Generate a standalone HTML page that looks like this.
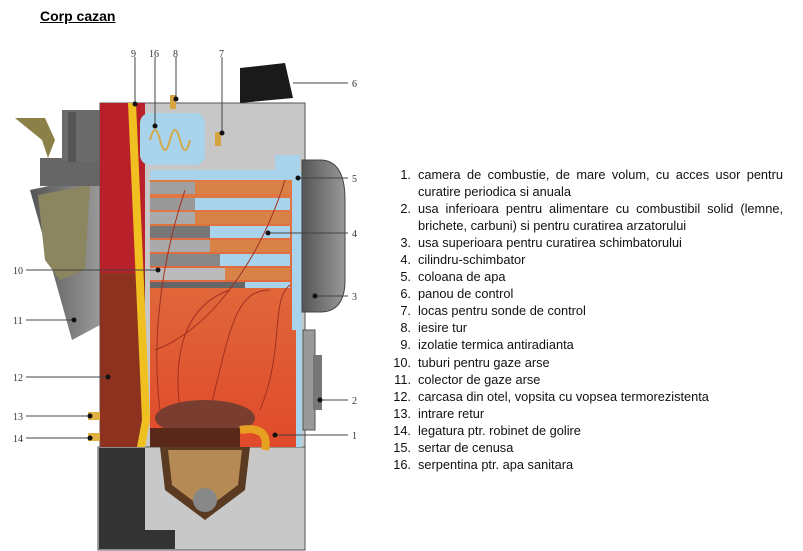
<!DOCTYPE html>
<html><head><meta charset="utf-8"><style>
body{margin:0;width:803px;height:551px;background:#fff;position:relative;overflow:hidden;font-family:"Liberation Sans",Arial,sans-serif}
.t{position:absolute;left:40px;top:8px;font-size:14px;font-weight:bold;text-decoration:underline}
.list{position:absolute;left:380px;top:166px;width:403px;font-size:12.8px;line-height:17.05px;color:#111}
.li{display:flex}
.n{width:31px;text-align:right;padding-right:7px;flex:none}
.x{flex:1;text-align:justify;text-align-last:left}
</style></head><body>
<div class="t">Corp cazan</div>
<svg width="380" height="551" style="position:absolute;left:0;top:0" font-family="Liberation Serif,serif" font-size="10" fill="#333">
<defs>
<linearGradient id="ch" x1="0" y1="0" x2="0" y2="1"><stop offset="0" stop-color="#e07a45"/><stop offset="1" stop-color="#e04a2a"/></linearGradient>
<linearGradient id="gr" x1="0" y1="0" x2="1" y2="0"><stop offset="0" stop-color="#555"/><stop offset="1" stop-color="#999"/></linearGradient>
</defs>
<polygon points="30,190 100,175 100,325 72,340" fill="url(#gr)"/>
<polygon points="38,195 90,185 85,270 60,280 45,260" fill="#8b8560"/>
<rect x="40" y="158" width="60" height="28" fill="#666"/>
<rect x="62" y="110" width="40" height="52" fill="#6a6a6a"/>
<rect x="68" y="112" width="8" height="50" fill="#555"/>
<polygon points="15,118 45,118 55,140 48,158 42,140" fill="#8a8048"/>
<rect x="98" y="447" width="207" height="103" fill="#c8c8c8" stroke="#555"/>
<polygon points="99,448 145,448 145,530 175,530 175,549 99,549" fill="#333"/>
<rect x="100" y="103" width="205" height="344" fill="#c7c7c7" stroke="#555"/>
<rect x="100" y="103" width="45" height="344" fill="#8e3220"/>
<rect x="100" y="103" width="45" height="170" fill="#b8202a"/>
<rect x="140" y="113" width="65" height="52" rx="10" fill="#a9d3ea"/>
<path d="M150,140 q5,-20 10,0 q5,20 10,0 q5,-20 10,0 q5,20 10,0" stroke="#d4a94a" fill="none" stroke-width="2"/>
<rect x="170" y="95" width="6" height="14" fill="#d4a440"/>
<rect x="215" y="132" width="6" height="14" fill="#d4a440"/>
<polygon points="150,170 300,170 300,155 275,155 275,170 300,170 300,447 288,447 288,320 300,320" fill="#a9d3ea"/>
<rect x="150" y="172" width="150" height="8" fill="#a9d3ea"/>
<rect x="288" y="172" width="14" height="275" fill="#a9d3ea"/>
<polygon points="150,180 292,180 292,330 296,330 296,447 150,447" fill="url(#ch)"/>
<g>
<rect x="150" y="182" width="140" height="12" fill="#d88248"/><rect x="150" y="182" width="45" height="12" fill="#a0a0a0"/>
<rect x="150" y="198" width="140" height="12" fill="#a9d3ea"/><rect x="150" y="198" width="45" height="12" fill="#999"/>
<rect x="195" y="212" width="95" height="12" fill="#d88248"/><rect x="150" y="212" width="45" height="12" fill="#aaa"/>
<rect x="150" y="226" width="140" height="12" fill="#a9d3ea"/><rect x="150" y="226" width="60" height="12" fill="#777"/>
<rect x="210" y="240" width="80" height="12" fill="#d88248"/><rect x="150" y="240" width="60" height="12" fill="#aaa"/>
<rect x="150" y="254" width="140" height="12" fill="#a9d3ea"/><rect x="150" y="254" width="70" height="12" fill="#888"/>
<rect x="225" y="268" width="65" height="12" fill="#d88248"/><rect x="150" y="268" width="75" height="12" fill="#bbb"/>
<rect x="150" y="282" width="140" height="6" fill="#a9d3ea"/><rect x="150" y="282" width="95" height="6" fill="#666"/>
</g>
<path d="M160,410 C150,330 165,250 185,190 M180,410 C170,330 200,300 230,290 M210,410 C230,330 235,290 270,290 M260,410 C285,350 270,300 290,285 M155,350 C210,330 260,260 285,180" stroke="#a03020" fill="none"/>
<polygon points="128,103 136,103 150,420 145,447 137,447 142,420" fill="#f0c020"/>
<ellipse cx="205" cy="418" rx="50" ry="18" fill="#7a3e30"/>
<rect x="150" y="428" width="90" height="19" fill="#5a2818"/>
<path d="M160,447 L250,447 L245,490 L205,520 L165,490 Z" fill="#5a3a20"/>
<path d="M168,450 L242,450 L238,485 L205,510 L172,485 Z" fill="#b58a55"/>
<circle cx="205" cy="500" r="12" fill="#888"/>
<path d="M240,430 q30,-5 25,20" stroke="#e8a020" stroke-width="8" fill="none"/>
<path d="M240,68 L285,63 L293,98 L240,103 Z" fill="#1a1a1a"/>
<path d="M302,160 L320,160 Q345,160 345,200 L345,280 Q345,312 320,312 L302,312 Z" fill="url(#gr)" stroke="#444"/>
<rect x="303" y="330" width="12" height="100" fill="#999" stroke="#555"/>
<rect x="313" y="355" width="9" height="55" fill="#777"/>
<rect x="88" y="412" width="12" height="8" fill="#e0b040"/><rect x="88" y="433" width="12" height="8" fill="#e0b040"/>
<g stroke="#444" stroke-width="1">
<line x1="135" y1="57" x2="135" y2="103"/><line x1="155" y1="57" x2="155" y2="125"/><line x1="176" y1="57" x2="176" y2="98"/><line x1="222" y1="57" x2="222" y2="133"/>
<line x1="293" y1="83" x2="348" y2="83"/><line x1="298" y1="178" x2="348" y2="178"/><line x1="268" y1="233" x2="348" y2="233"/>
<line x1="315" y1="296" x2="348" y2="296"/><line x1="320" y1="400" x2="348" y2="400"/><line x1="275" y1="435" x2="348" y2="435"/>
<line x1="26" y1="270" x2="158" y2="270"/><line x1="26" y1="320" x2="74" y2="320"/><line x1="26" y1="377" x2="108" y2="377"/>
<line x1="26" y1="416" x2="90" y2="416"/><line x1="26" y1="438" x2="90" y2="438"/>
</g>
<g fill="#111"><circle cx="135" cy="104" r="2.5"/><circle cx="155" cy="126" r="2.5"/><circle cx="176" cy="99" r="2.5"/><circle cx="222" cy="133" r="2.5"/><circle cx="298" cy="178" r="2.5"/><circle cx="268" cy="233" r="2.5"/><circle cx="315" cy="296" r="2.5"/><circle cx="320" cy="400" r="2.5"/><circle cx="275" cy="435" r="2.5"/><circle cx="158" cy="270" r="2.5"/><circle cx="74" cy="320" r="2.5"/><circle cx="108" cy="377" r="2.5"/><circle cx="90" cy="416" r="2.5"/><circle cx="90" cy="438" r="2.5"/></g>
<g>
<text x="131" y="57">9</text><text x="149" y="57">16</text><text x="173" y="57">8</text><text x="219" y="57">7</text>
<text x="352" y="87">6</text><text x="352" y="182">5</text><text x="352" y="237">4</text><text x="352" y="300">3</text><text x="352" y="404">2</text><text x="352" y="439">1</text>
<text x="13" y="274">10</text><text x="13" y="324">11</text><text x="13" y="381">12</text><text x="13" y="420">13</text><text x="13" y="442">14</text>
</g>
</svg>
<div class="list">
<div class="li"><span class="n">1.</span><span class="x">camera de combustie, de mare volum, cu acces usor pentru curatire periodica si anuala</span></div>
<div class="li"><span class="n">2.</span><span class="x">usa inferioara pentru alimentare cu combustibil solid (lemne, brichete, carbuni) si pentru curatirea arzatorului</span></div>
<div class="li"><span class="n">3.</span><span class="x">usa superioara pentru curatirea schimbatorului</span></div>
<div class="li"><span class="n">4.</span><span class="x">cilindru-schimbator</span></div>
<div class="li"><span class="n">5.</span><span class="x">coloana de apa</span></div>
<div class="li"><span class="n">6.</span><span class="x">panou de control</span></div>
<div class="li"><span class="n">7.</span><span class="x">locas pentru sonde de control</span></div>
<div class="li"><span class="n">8.</span><span class="x">iesire tur</span></div>
<div class="li"><span class="n">9.</span><span class="x">izolatie termica antiradianta</span></div>
<div class="li"><span class="n">10.</span><span class="x">tuburi pentru gaze arse</span></div>
<div class="li"><span class="n">11.</span><span class="x">colector de gaze arse</span></div>
<div class="li"><span class="n">12.</span><span class="x">carcasa din otel, vopsita cu vopsea termorezistenta</span></div>
<div class="li"><span class="n">13.</span><span class="x">intrare retur</span></div>
<div class="li"><span class="n">14.</span><span class="x">legatura ptr. robinet de golire</span></div>
<div class="li"><span class="n">15.</span><span class="x">sertar de cenusa</span></div>
<div class="li"><span class="n">16.</span><span class="x">serpentina ptr. apa sanitara</span></div>
</div>
</body></html>
